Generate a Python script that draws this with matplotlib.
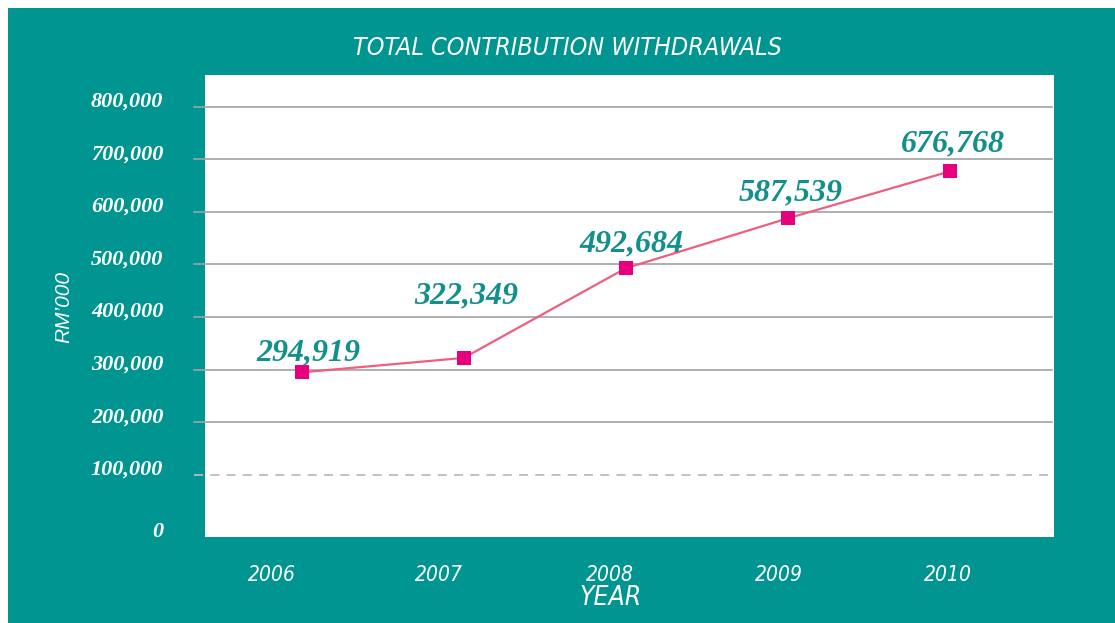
import matplotlib
matplotlib.use("Agg")
import matplotlib.pyplot as plt
from matplotlib import font_manager as fm
from matplotlib.patches import Rectangle
from matplotlib.transforms import ScaledTranslation, blended_transform_factory

# ---- data ----
years = [2006, 2007, 2008, 2009, 2010]
withdrawals = [294919, 322349, 492684, 587539, 676768]
y_ticks = [0, 100000, 200000, 300000, 400000, 500000, 600000, 700000, 800000]
y_tick_labels = ["0", "100,000", "200,000", "300,000", "400,000",
                 "500,000", "600,000", "700,000", "800,000"]
year_labels = ["2006", "2007", "2008", "2009", "2010"]
title = "TOTAL CONTRIBUTION WITHDRAWALS"
x_title = "YEAR"
y_title = "RM\u2019000"

# ---- styling ----
TEAL = "#009591"
LABEL_TEAL = "#11908C"
LINE = "#EE5F7F"
MARKER = "#E6007E"

names = {f.name for f in fm.fontManager.ttflist}
if "Liberation Sans Narrow" in names:
    NARROW = dict(family="Liberation Sans Narrow")
elif any(f.name == "DejaVu Sans" and f.stretch == "condensed" for f in fm.fontManager.ttflist):
    NARROW = dict(family="DejaVu Sans", stretch="condensed")
else:
    NARROW = dict(family="Liberation Sans")
SERIF = "Liberation Serif"

W, H = 1115, 623
fig = plt.figure(figsize=(W / 100, H / 100), dpi=100, facecolor="white")

# teal panel behind everything
fig.patches.append(Rectangle((8 / W, 0), 1 - 8 / W, (H - 8) / H,
                             transform=fig.transFigure, facecolor=TEAL,
                             edgecolor="none", zorder=-5))

ax = fig.add_axes([205 / W, (H - 537) / H, 849 / W, 462 / H])
ax.set_zorder(2)
ax.set_facecolor("white")
for s in ax.spines.values():
    s.set_visible(False)

ax.set_xlim(2005.403, 2010.644)
ax.set_ylim(-18000, 860000)

# horizontal rules, running a little past the left edge as tick marks
trans = blended_transform_factory(ax.transAxes, ax.transData)
for v in y_ticks[1:]:
    if v == 100000:
        ax.plot([-11 / 849, 0.9976], [v, v], transform=trans, color="#bcbcbc",
                lw=1.3, ls=(0, (5, 4)), clip_on=False, zorder=1)
    else:
        ax.plot([-11 / 849, 0.9976], [v, v], transform=trans, color="#a2a2a2",
                lw=1.2, clip_on=False, zorder=1)

# series
ax.plot(years, withdrawals, color=LINE, lw=1.6, zorder=2)
ax.plot(years, withdrawals, ls="none", marker="s", ms=10.5, color=MARKER,
        markeredgewidth=0, zorder=3)

# value labels
label_offsets = [(6.6, 12.3), (2.3, 54.9), (6.0, 16.6), (2.8, 18.4), (3.6, 19.8)]
for x, v, (dx, dy) in zip(years, withdrawals, label_offsets):
    ax.annotate(f"{v:,}", (x, v), xytext=(dx, dy), textcoords="offset pixels",
                ha="center", va="baseline", color=LABEL_TEAL, fontsize=23,
                family=SERIF, fontweight="bold", fontstyle="italic", zorder=4)

# y axis
ax.set_yticks(y_ticks)
ax.set_yticklabels(y_tick_labels)
ax.tick_params(axis="y", length=0, pad=30)
for i, lab in enumerate(ax.get_yticklabels()):
    lab.set_color("white")
    lab.set_fontfamily(SERIF)
    lab.set_fontweight("bold")
    lab.set_fontstyle("italic")
    lab.set_fontsize(16)
    lab.set_verticalalignment("baseline")
    if i == 0:
        # the zero label sits lower, near the bottom edge of the panel
        lab.set_transform(lab.get_transform() + ScaledTranslation(0, -0.09, fig.dpi_scale_trans))

# x axis
ax.set_xticks(years)
ax.set_xticklabels(year_labels)
ax.tick_params(axis="x", length=0, pad=20)
year_shift = [-29.7, -24.7, -15.7, -8.7, -1.7]
for lab, dx in zip(ax.get_xticklabels(), year_shift):
    lab.set_color("white")
    lab.set_fontproperties(fm.FontProperties(style="italic", size=15, **NARROW))
    lab.set_transform(lab.get_transform() + ScaledTranslation(dx / 100, 0, fig.dpi_scale_trans))

fig.text(567 / W, 1 - 48 / H, title, ha="center", va="center", color="white",
         fontproperties=fm.FontProperties(style="italic", size=18, **NARROW))
fig.text(611 / W, 1 - 598 / H, x_title, ha="center", va="center", color="white",
         fontproperties=fm.FontProperties(style="italic", size=19, **NARROW))
fig.text(64 / W, 1 - 307 / H, y_title, ha="center", va="center", color="white",
         rotation=90, fontsize=15, family="Liberation Sans", fontstyle="italic")

fig.savefig("out.png", dpi=100, facecolor="white")
